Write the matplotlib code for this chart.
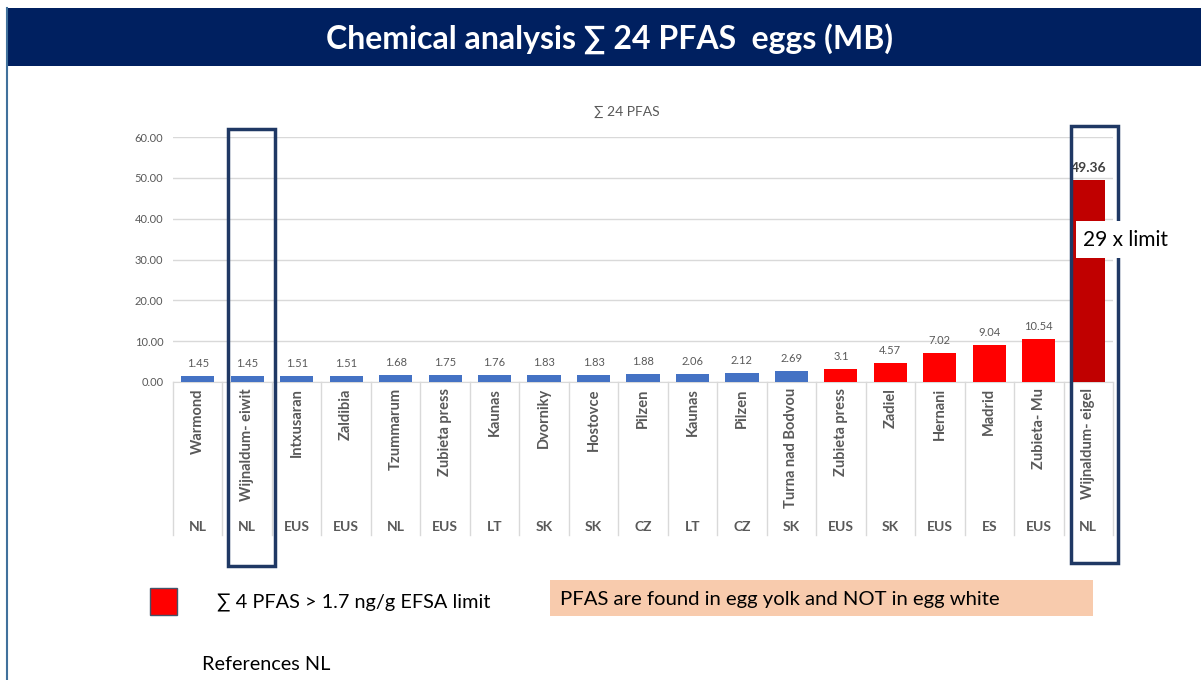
import matplotlib
matplotlib.use("Agg")
import matplotlib.pyplot as plt
from matplotlib.patches import Rectangle

plt.rcParams['font.family'] = ['Lato', 'DejaVu Sans']

# ---- data ----
sites = ["Warmond", "Wijnaldum- eiwit", "Intxusaran", "Zaldibia", "Tzummarum",
         "Zubieta press", "Kaunas", "Dvorniky", "Hostovce", "Pilzen", "Kaunas",
         "Pilzen", "Turna nad Bodvou", "Zubieta press", "Zadiel", "Hernani",
         "Madrid", "Zubieta- Mu", "Wijnaldum- eigel"]
countries = ["NL", "NL", "EUS", "EUS", "NL", "EUS", "LT", "SK", "SK", "CZ", "LT",
             "CZ", "SK", "EUS", "SK", "EUS", "ES", "EUS", "NL"]
pfas24 = [1.45, 1.45, 1.51, 1.51, 1.68, 1.75, 1.76, 1.83, 1.83, 1.88, 2.06,
          2.12, 2.69, 3.1, 4.57, 7.02, 9.04, 10.54, 49.36]
status = ["below"] * 13 + ["above"] * 5 + ["extreme"]
yticks = [0, 10, 20, 30, 40, 50, 60]

W, H = 1201, 680
fig = plt.figure(figsize=(W / 100, H / 100), dpi=100)
fig.patch.set_facecolor("white")

def fx(px):
    return px / W

def fy(py):
    return 1 - py / H

# main chart axes: x 173..1113, y 137..382 (pixels)
ax = fig.add_axes([fx(173), fy(382), (1113 - 173) / W, (382 - 137) / H])
cmap = {"below": "#4472C4", "above": "#FF0000", "extreme": "#C00000"}
colors = [cmap[s] for s in status]
x = list(range(len(sites)))
bars = ax.bar(x, pfas24, width=0.67, color=colors, zorder=3)
ax.set_xlim(-0.5, len(sites) - 0.5)
ax.set_ylim(0, 60)
ax.set_yticks(yticks)
ax.set_yticklabels([f"{t:.2f}" for t in yticks], fontsize=8, color="#595959")
ax.tick_params(axis="y", length=0, pad=7)
ax.set_xticks([])
ax.grid(axis="y", color="#D9D9D9", linewidth=1, zorder=0)
for s in ["top", "right", "left"]:
    ax.spines[s].set_visible(False)
ax.spines["bottom"].set_color("#D9D9D9")

for i, v in enumerate(pfas24):
    last = i == len(pfas24) - 1
    ax.annotate(f"{v:g}", (i, v), xytext=(0, 5),
                textcoords="offset points", ha="center", va="bottom",
                fontsize=10 if last else 8, fontweight="bold" if last else "normal",
                color="#404040" if last else "#595959")

# multi-level category axis
xt = ax.get_xaxis_transform()
yb = -(535 - 382) / 245
for b in range(len(sites) + 1):
    ax.plot([b - 0.5, b - 0.5], [0, yb], transform=xt, color="#D9D9D9",
            lw=1, clip_on=False)
for i, (s, c) in enumerate(zip(sites, countries)):
    ax.text(i, -0.025, s, transform=xt, rotation=90, ha="center", va="top",
            fontsize=10.5, color="#595959", fontweight="bold")
    ax.text(i, -(527 - 382) / 245, c, transform=xt, ha="center", va="center",
            fontsize=10, color="#595959", fontweight="bold")

# overlay in pixel coordinates
ov = fig.add_axes([0, 0, 1, 1], facecolor="none")
ov.set_xlim(0, W)
ov.set_ylim(H, 0)
ov.axis("off")

ov.add_patch(Rectangle((7, 8), W - 7, 58, facecolor="#002060", edgecolor="none"))
ov.plot([7, 7], [8, H], color="#41719C", lw=1.5)
ov.text(610, 39, "Chemical analysis \u2211 24 PFAS  eggs (MB)", ha="center",
        va="center", color="white", fontsize=23, fontweight="bold")

ov.text(627, 112, "\u2211 24 PFAS", ha="center", va="center", fontsize=10,
        color="#595959")

# highlight boxes
ov.add_patch(Rectangle((228, 129), 47, 437, fill=False, edgecolor="#1F3864", lw=2.5))
ov.add_patch(Rectangle((1071, 126), 47, 437, fill=False, edgecolor="#1F3864", lw=2.5))

# 29 x limit box
ov.add_patch(Rectangle((1076, 221), 99, 37, facecolor="white", edgecolor="none"))
ov.text(1083, 240, "29 x limit", ha="left", va="center", fontsize=15, color="black")

# legend
ov.add_patch(Rectangle((150, 588), 27, 27, facecolor="#FF0000", edgecolor="#44546A", lw=1))
ov.text(217, 603, "\u2211 4 PFAS > 1.7 ng/g EFSA limit", ha="left", va="center",
        fontsize=14.3, color="black")
ov.add_patch(Rectangle((550, 580), 543, 36, facecolor="#F8CBAD", edgecolor="none"))
ov.text(560, 599, "PFAS are found in egg yolk and NOT in egg white", ha="left",
        va="center", fontsize=14.6, color="black")
ov.text(202, 665, "References NL", ha="left", va="center", fontsize=14.3, color="black")

fig.savefig("out.png", dpi=100)
